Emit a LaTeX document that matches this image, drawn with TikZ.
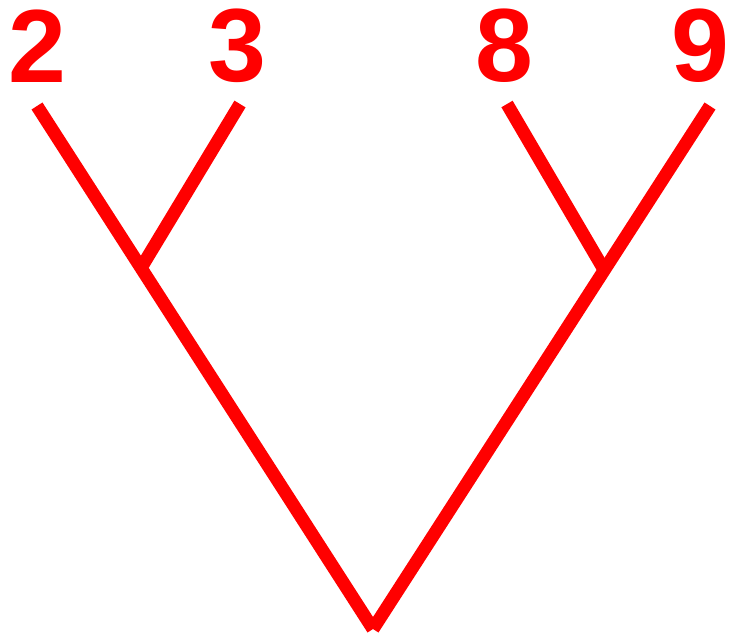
\documentclass[tikz,border=0pt]{standalone}
\usepackage{fontspec}
\setmainfont{Liberation Sans}
\definecolor{tred}{RGB}{255,0,0}
\begin{document}
\begin{tikzpicture}[x=1pt,y=-1pt,
  lbl/.style={text=tred,font=\fontsize{104}{104}\selectfont\bfseries,inner sep=0pt,anchor=center},
  branch/.style={draw=tred,line width=13pt,line cap=butt}]
\useasboundingbox (0,0) rectangle (730,640);
\node[lbl] (l2) at (37,46) {2};
\node[lbl] (l3) at (237,46) {3};
\node[lbl] (l8) at (504,46) {8};
\node[lbl] (l9) at (700,46) {9};
\coordinate (t2) at (37,106);
\coordinate (t3) at (240,104);
\coordinate (t8) at (507,104);
\coordinate (t9) at (710,106);
\coordinate (jl) at (141,268);
\coordinate (jr) at (603,268);
\coordinate (root) at (373,629);
\draw[branch] (t2) -- (root);
\draw[branch] (t9) -- (root);
\draw[branch] (t3) -- (jl);
\draw[branch] (t8) -- (jr);
\end{tikzpicture}
\end{document}
